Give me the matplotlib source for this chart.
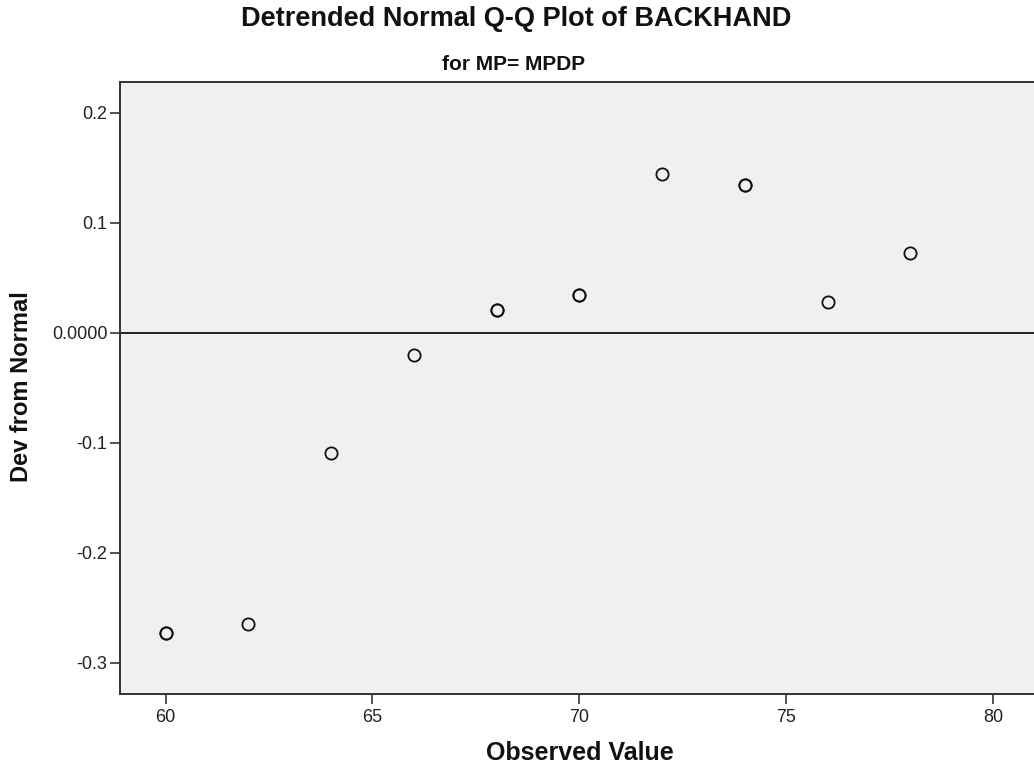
import numpy as np
import matplotlib
matplotlib.use("Agg")
import matplotlib.pyplot as plt

observed = [60, 62, 64, 66, 68, 70, 72, 74, 76, 78]
dev_from_normal = [-0.2727, -0.2645, -0.1091, -0.0200, 0.0209, 0.0345,
                   0.1445, 0.1345, 0.0282, 0.0727]
# tied cases sit on the same spot, drawn twice
case_count = [2, 1, 1, 1, 2, 2, 1, 2, 1, 1]

x_ticks = [60, 65, 70, 75, 80]
y_ticks = [0.2, 0.1, 0.0, -0.1, -0.2, -0.3]
y_tick_labels = ["0.2", "0.1", "0.0000", "-0.1", "-0.2", "-0.3"]

title = "Detrended Normal Q-Q Plot of BACKHAND"
subtitle = "for MP= MPDP"
x_label = "Observed Value"
y_label = "Dev from Normal"

plt.rcParams['font.family'] = ['Liberation Sans', 'DejaVu Sans']

fig = plt.figure(figsize=(10.34, 7.67), dpi=100)
ax = fig.add_axes([120 / 1034, 1 - 694 / 767, 1 - 120 / 1034, (694 - 82) / 767])
ax.set_facecolor('#f0f0f0')

xs = np.repeat(observed, case_count)
ys = np.repeat(dev_from_normal, case_count)
ax.plot(xs, ys, linestyle='none', marker='o', markersize=8.8,
        markerfacecolor='none', markeredgecolor='#111111',
        markeredgewidth=1.3, zorder=3)

# zero reference line
ax.axhline(0, color='#222222', linewidth=1.4, zorder=2)

ax.set_xlim(58.90, 80.99)
ax.set_ylim(-0.3282, 0.2279)
ax.set_xticks(x_ticks)
ax.set_xticklabels([str(t) for t in x_ticks])
ax.set_yticks(y_ticks)
ax.set_yticklabels(y_tick_labels)

for side in ['left', 'bottom', 'top']:
    ax.spines[side].set_color('#333333')
    ax.spines[side].set_linewidth(1.4)
ax.spines['right'].set_visible(False)

ax.tick_params(axis='both', direction='out', length=7, width=1.2,
               color='#333333', labelsize=13, labelcolor='#222222')
ax.tick_params(axis='y', pad=2)
ax.tick_params(axis='x', pad=4)

fig.text(516 / 1034, 1 - 19 / 767, title, ha='center', va='center',
         fontsize=19.5, fontweight='bold', color='#111111')
fig.text(514 / 1034, 1 - 65 / 767, subtitle, ha='center', va='center',
         fontsize=15, fontweight='bold', color='#111111')
fig.text(580 / 1034, 1 - 753 / 767, x_label, ha='center', va='center',
         fontsize=18, fontweight='bold', color='#111111')
fig.text(22 / 1034, 1 - 387 / 767, y_label, ha='center', va='center',
         rotation=90, fontsize=17, fontweight='bold', color='#111111')

fig.savefig("out.png", dpi=100, facecolor='white')
